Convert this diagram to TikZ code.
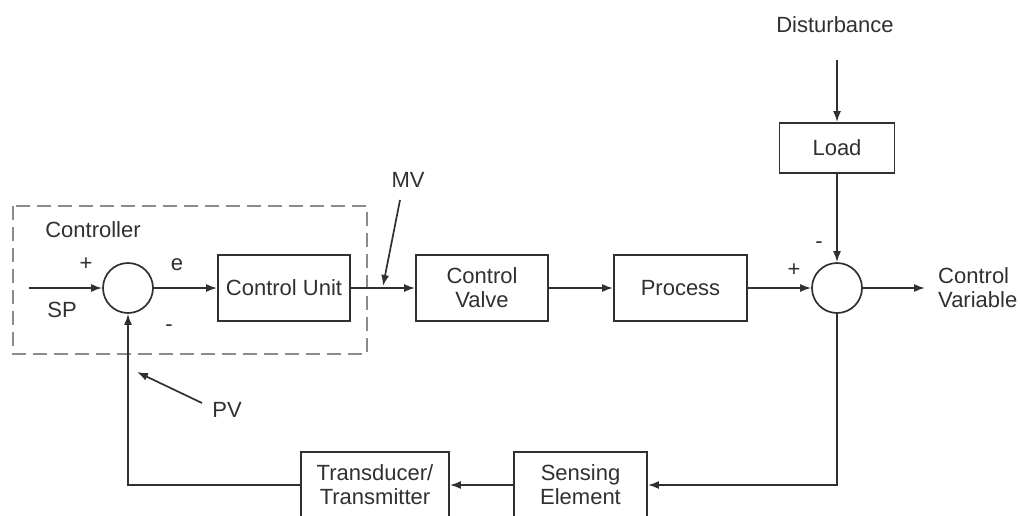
\documentclass[tikz,border=0pt]{standalone}
\usepackage{fontspec}
\setmainfont{Liberation Sans}
\usetikzlibrary{arrows.meta}
\definecolor{ink}{HTML}{303030}
\definecolor{frame}{HTML}{8C8C8C}
\begin{document}
\begin{tikzpicture}[x=1pt,y=-1pt,
  every node/.style={font=\fontsize{22}{24}\selectfont, text=ink},
  block/.style={draw=ink, line width=1.9pt, rectangle, minimum width=132pt, minimum height=66pt, align=center, inner sep=2pt},
  junction/.style={draw=ink, line width=1.7pt, circle, minimum size=50pt, inner sep=0pt},
  flow/.style={draw=ink, line width=1.7pt, -{Latex[length=11pt,width=8pt]}},
  lbl/.style={inner sep=0pt}]
\useasboundingbox (0,0) rectangle (1020,515);

% controller enclosure
\draw[frame, line width=1.8pt, dash pattern=on 14pt off 7pt] (13,206) rectangle (367,354);
\node[lbl] (ctl) at (93,230) {Controller};

% forward path
\node[junction] (s1) at (128,288) {};
\node[block] (cu) at (284,288) {Control Unit};
\node[block] (cv) at (482,288) {Control\\Valve};
\node[block, minimum width=133pt] (pr) at (680.5,288) {Process};
\node[junction] (s2) at (837,288) {};

% disturbance path
\node[lbl] (dist) at (835,25) {Disturbance};
\coordinate (dtop) at (837,60);
\node[block, minimum width=115pt, minimum height=50pt] (load) at (837,148) {Load};

% feedback path
\node[block, minimum width=133pt] (se) at (580.5,485) {Sensing\\Element};
\node[block, minimum width=148pt] (tt) at (375,485) {Transducer/\\Transmitter};

% outputs and inputs
\coordinate (spin) at (29,288);
\coordinate (cvout) at (925,288);
\node[lbl, align=left, anchor=west] (cvar) at (938,288) {Control\\Variable};

% signal labels
\node[lbl] (plus1) at (86,264) {+};
\node[lbl] (sp) at (62,310) {SP};
\node[lbl] (err) at (177,265) {e};
\node[lbl] (minus1) at (169,328) {-};
\node[lbl] (mv) at (408,180) {MV};
\node[lbl] (pv) at (227,410) {PV};
\node[lbl] (minus2) at (819,245) {-};
\node[lbl] (plus2) at (794,270) {+};

% pointer arrows
\coordinate (mvs) at (400,200);
\coordinate (mvt) at (383,286);
\coordinate (pvs) at (202,403);
\coordinate (pvt) at (137,372);

% connectors
\draw[flow] (spin) -- (s1.west);
\draw[flow] (s1.east) -- (cu.west);
\draw[flow] (cu.east) -- (cv.west);
\draw[flow] (cv.east) -- (pr.west);
\draw[flow] (pr.east) -- (s2.west);
\draw[flow] (dtop) -- (load.north);
\draw[flow] (load.south) -- (s2.north);
\draw[flow] (s2.east) -- (cvout);
\draw[flow] (s2.south) |- (se.east);
\draw[flow] (se.west) -- (tt.east);
\draw[flow] (tt.west) -| (s1.south);
\draw[flow] (mvs) -- (mvt);
\draw[flow] (pvs) -- (pvt);
\end{tikzpicture}
\end{document}
